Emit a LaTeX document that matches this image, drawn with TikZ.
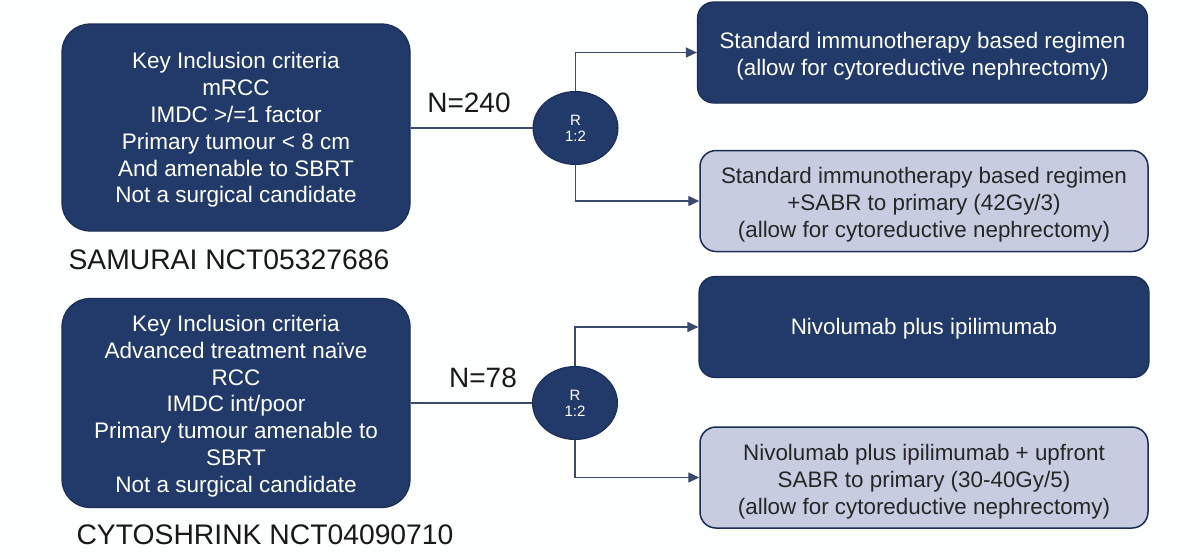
\documentclass[tikz,border=0pt]{standalone}
\usepackage{fontspec}
\setmainfont{Liberation Sans}
\usetikzlibrary{shapes.geometric,arrows.meta}
\definecolor{navy}{HTML}{213A6A}
\definecolor{navyedge}{HTML}{1A2D55}
\definecolor{lightbox}{HTML}{C7CCE1}
\definecolor{conn}{HTML}{3A4A6E}
\definecolor{bg}{HTML}{FDFEFE}
\newcommand\shifttext[2]{\raisebox{-#1}[\height][\depth]{\begin{tabular}{@{}c@{}}#2\end{tabular}}}
\tikzset{
  crit/.style={draw=navyedge, line width=1.2pt, fill=navy, rounded corners=28pt,
    text=white, minimum width=348pt, inner sep=0pt,
    font=\fontsize{22.5}{26.8}\selectfont},
  darkarm/.style={draw=navyedge, line width=1.2pt, fill=navy, rounded corners=16pt,
    text=white, minimum width=450pt, minimum height=101pt, inner sep=0pt,
    font=\fontsize{22.4}{27}\selectfont},
  lightarm/.style={draw=navyedge, line width=1.5pt, fill=lightbox, rounded corners=16pt,
    text=black!85, minimum width=448pt, minimum height=101pt, inner sep=0pt,
    font=\fontsize{22.4}{27}\selectfont},
  rand/.style={ellipse, draw=navyedge, line width=1pt, fill=navy, text=white, align=center,
    minimum width=85pt, minimum height=73pt, inner sep=0pt, font=\fontsize{15}{16}\selectfont},
  nlabel/.style={font=\fontsize{28}{30}\selectfont, text=black!90},
  trial/.style={font=\fontsize{28.3}{30}\selectfont, text=black!90, anchor=west},
  link/.style={draw=conn, line width=1.4pt},
  arrowlink/.style={link, -{Triangle[length=11pt,width=10pt]}},
}
\begin{document}
\begin{tikzpicture}[x=1pt,y=-1pt]
\fill[bg] (0,0) rectangle (1200,558);
\useasboundingbox (0,0) rectangle (1200,558);

% SAMURAI
\node[crit, minimum height=207pt] (L1) at (236,127.5)
  {\shifttext{3pt}{Key Inclusion criteria\\mRCC\\IMDC >/=1 factor\\Primary tumour < 8 cm\\And amenable to SBRT\\Not a surgical candidate}};
\node[trial] (T1) at (65,260) {SAMURAI NCT05327686};
\node[rand] (C1) at (575.5,128) {R\\1:2};
\node[nlabel] (N1) at (469,103) {N=240};
\node[darkarm] (R1) at (922.5,52.5) {\shifttext{4.5pt}{Standard immunotherapy based regimen\\(allow for cytoreductive nephrectomy)}};
\node[lightarm] (R2) at (924,201) {\shifttext{4.5pt}{Standard immunotherapy based regimen\\+SABR to primary (42Gy/3)\\(allow for cytoreductive nephrectomy)}};
\draw[link] (L1.east |- C1.west) -- (C1.west);
\draw[arrowlink] (C1.north) |- (R1.west);
\draw[arrowlink] (C1.south) |- (R2.west);

% CYTOSHRINK
\node[crit, minimum height=209pt] (L2) at (236,403)
  {\shifttext{3.5pt}{Key Inclusion criteria\\Advanced treatment naïve\\RCC\\IMDC int/poor\\Primary tumour amenable to\\SBRT\\Not a surgical candidate}};
\node[trial] (T2) at (73,535) {CYTOSHRINK NCT04090710};
\node[rand] (C2) at (575,403) {R\\1:2};
\node[nlabel] (N2) at (483,378) {N=78};
\node[darkarm] (R3) at (924,327) {\shifttext{2pt}{Nivolumab plus ipilimumab}};
\node[lightarm] (R4) at (924,477.5) {\shifttext{4.5pt}{Nivolumab plus ipilimumab + upfront\\SABR to primary (30-40Gy/5)\\(allow for cytoreductive nephrectomy)}};
\draw[link] (L2.east |- C2.west) -- (C2.west);
\draw[arrowlink] (C2.north) |- (R3.west);
\draw[arrowlink] (C2.south) |- (R4.west);
\end{tikzpicture}
\end{document}
